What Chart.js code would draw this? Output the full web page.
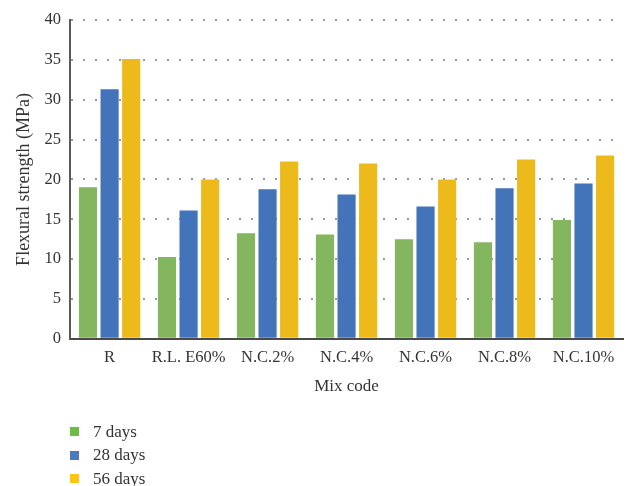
<!DOCTYPE html>
<html>
<head>
<meta charset="utf-8">
<script src="https://cdn.jsdelivr.net/npm/chart.js@4.4.0/dist/chart.umd.min.js"></script>
<style>
  html, body { margin: 0; padding: 0; background: #fff; }
  #wrap { position: relative; width: 627px; height: 486px; }
  #chart { position: absolute; left: 0; top: 0; }
  #legend { position: absolute; left: 70px; top: 420px; font-family: "Liberation Serif", "DejaVu Serif", serif; font-size: 17px; color: #333; }
  .item { display: flex; align-items: center; height: 23.5px; }
  .box { width: 9px; height: 9px; margin-right: 14px; }
</style>
</head>
<body>
<div id="wrap">
  <canvas id="chart" width="627" height="486"></canvas>
  <div id="legend"></div>
</div>
<script>
// Flexural strength (MPa) by mix code at three curing ages
const mixCodes = ["R", "R.L. E60%", "N.C.2%", "N.C.4%", "N.C.6%", "N.C.8%", "N.C.10%"];
const days7  = [19.0, 10.25, 13.25, 13.1, 12.5, 12.1, 14.9];
const days28 = [31.3, 16.1, 18.75, 18.1, 16.6, 18.9, 19.5];
const days56 = [35.1, 20.0, 22.25, 22.0, 20.0, 22.5, 23.0];
const seriesNames = ["7 days", "28 days", "56 days"];
const yTicks = [0, 5, 10, 15, 20, 25, 30, 35, 40];

const barColors = ["#83B65F", "#4373B9", "#EDBA1B"];
const keyColors = ["#6BBC42", "#4A7BC1", "#FCC60F"];
const serif = "'Liberation Serif', 'DejaVu Serif', serif";
const ink = "#333333";

new Chart(document.getElementById("chart"), {
  type: "bar",
  data: {
    labels: mixCodes,
    datasets: [days7, days28, days56].map((values, i) => ({
      label: seriesNames[i],
      data: values,
      backgroundColor: barColors[i],
      borderWidth: 0,
      categoryPercentage: 0.82,
      barPercentage: 0.84
    }))
  },
  options: {
    responsive: false,
    animation: false,
    layout: { padding: { top: 20, right: 4, bottom: 89, left: 13 } },
    plugins: { legend: { display: false }, tooltip: { enabled: false } },
    scales: {
      x: {
        grid: { display: false, drawTicks: false },
        border: { display: true, color: "#4a4a4a", width: 2 },
        ticks: { color: ink, font: { family: serif, size: 16.5 }, padding: 9, maxRotation: 0, autoSkip: false },
        title: { display: true, text: "Mix code", color: ink, font: { family: serif, size: 17 }, padding: { top: 0, bottom: 0 } }
      },
      y: {
        min: 0,
        max: 40,
        afterBuildTicks: (axis) => { axis.ticks = yTicks.map(v => ({ value: v })); },
        // dotted horizontal grid lines, solid axis line
        grid: { color: "#9a9a9a", lineWidth: 2, drawTicks: false },
        border: { display: true, color: "#5a5a5a", width: 2, dash: [2, 10] },
        ticks: { color: ink, font: { family: serif, size: 16.5 }, padding: 9 },
        title: { display: true, text: "Flexural strength (MPa)", color: ink, font: { family: serif, size: 18 }, padding: { top: 0, bottom: 1 } }
      }
    }
  }
});

// legend listed vertically beneath the axis title
const legend = document.getElementById("legend");
seriesNames.forEach((name, i) => {
  const row = document.createElement("div");
  row.className = "item";
  const box = document.createElement("span");
  box.className = "box";
  box.style.background = keyColors[i];
  const text = document.createElement("span");
  text.textContent = name;
  row.appendChild(box);
  row.appendChild(text);
  legend.appendChild(row);
});
</script>
</body>
</html>
